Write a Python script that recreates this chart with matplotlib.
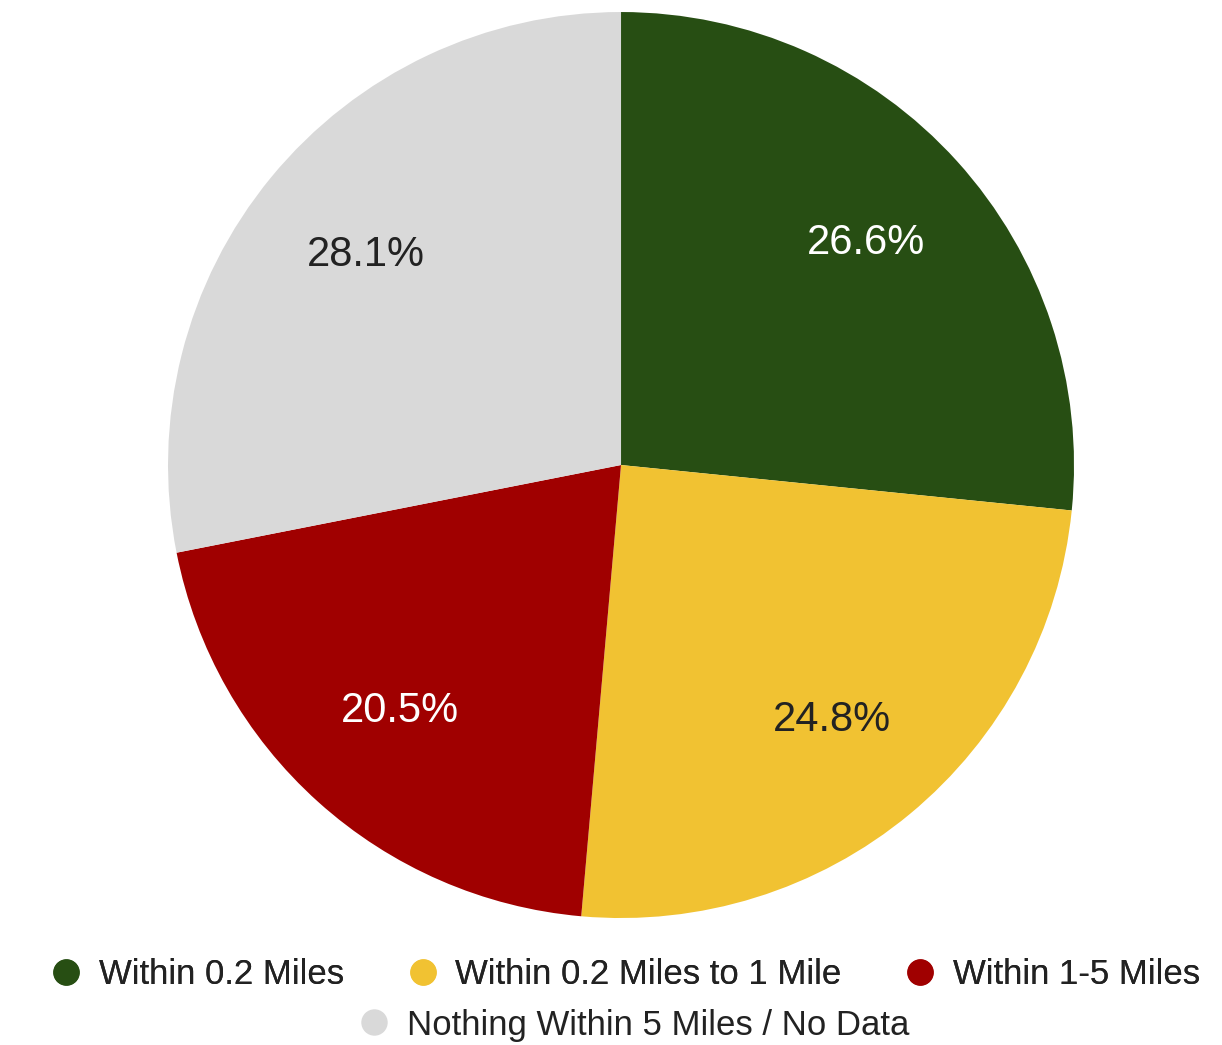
import matplotlib.pyplot as plt
from matplotlib.lines import Line2D

plt.rcParams['font.family'] = ['Liberation Sans', 'DejaVu Sans']

categories = ["Within 0.2 Miles", "Within 0.2 Miles to 1 Mile",
              "Within 1-5 Miles", "Nothing Within 5 Miles / No Data"]
shares = [26.6, 24.8, 20.5, 28.1]
colors = ["#274e13", "#f1c232", "#a00000", "#d9d9d9"]
label_colors = ["white", "#222222", "white", "#222222"]


def main():
	fig = plt.figure(figsize=(12.22, 10.45), dpi=100)
	ax = fig.add_axes([0.1375, 0.1215, 0.7414, 0.867])

	wedges, texts, autotexts = ax.pie(
		shares, colors=colors, startangle=90, counterclock=False,
		autopct='%1.1f%%', pctdistance=0.73,
		wedgeprops=dict(linewidth=0),
		textprops=dict(fontsize=30))
	for t, c in zip(autotexts, label_colors):
		t.set_color(c)
	ax.set_xlim(-1, 1)
	ax.set_ylim(-1, 1)
	ax.set_aspect('equal')
	ax.axis('off')

	handles = [Line2D([], [], linestyle='none', marker='o', markersize=18,
					  markerfacecolor=c, markeredgecolor=c) for c in colors]

	leg1 = fig.legend(handles[:3], categories[:3], loc='center',
					  bbox_to_anchor=(0.511, 0.067), ncol=3, frameon=False,
					  fontsize=25, handlelength=1.0, handletextpad=0.45,
					  columnspacing=1.75, labelcolor='#222222')
	fig.add_artist(leg1)
	fig.legend(handles[3:], categories[3:], loc='center',
			   bbox_to_anchor=(0.518, 0.019), frameon=False,
			   fontsize=25, handlelength=1.0, handletextpad=0.45,
			   labelcolor='#222222')

	fig.savefig('out.png', dpi=100)


if __name__ == "__main__":
	main()
